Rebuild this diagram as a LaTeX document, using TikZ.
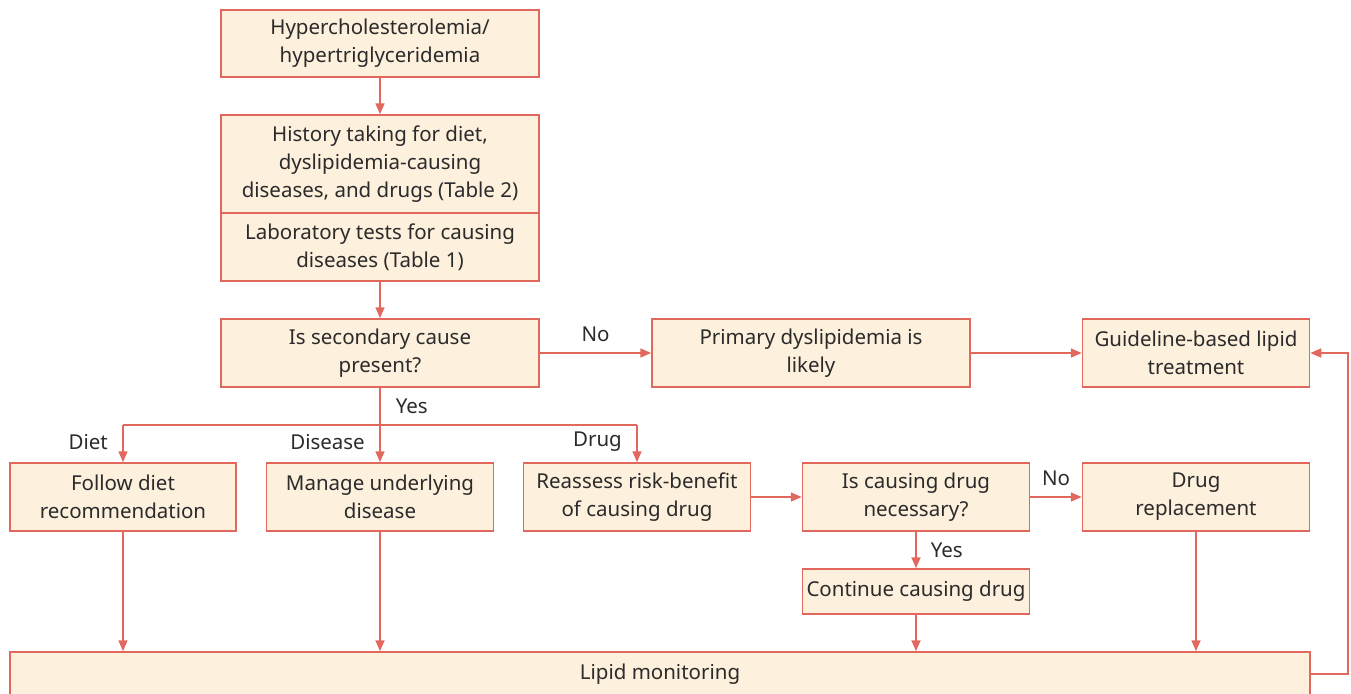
\documentclass[tikz,border=0pt]{standalone}
\usepackage{fontspec}
\setmainfont{Noto Sans}
\usetikzlibrary{arrows.meta}
\definecolor{boxfill}{HTML}{FDF0DD}
\definecolor{boxline}{HTML}{E2685E}
\definecolor{txt}{HTML}{2B2B2B}
\begin{document}
\begin{tikzpicture}[x=1pt,y=-1pt,
 box/.style={draw=boxline, fill=boxfill, line width=1.5pt, inner sep=0pt, align=center, text=txt, font=\fontsize{20.5}{28}\selectfont},
 arr/.style={draw=boxline, line width=1.6pt, -{Triangle[length=11pt,width=9pt]}},
 ln/.style={draw=boxline, line width=1.6pt},
 lab/.style={text=txt, font=\fontsize{20.5}{28}\selectfont, inner sep=0pt}]
\useasboundingbox (0,0) rectangle (1351,693);
% top column
\node[box, minimum width=318pt, minimum height=67pt] (b1) at (380,43.5) {Hypercholesterolemia/\\hypertriglyceridemia};
\node[box, minimum width=318pt, minimum height=98pt] (b2a) at (380,164) {History taking for diet,\\dyslipidemia-causing\\diseases, and drugs (Table 2)};
\node[box, minimum width=318pt, minimum height=68pt] (b2b) at (380,247) {Laboratory tests for causing\\diseases (Table 1)};
\node[box, minimum width=318pt, minimum height=68pt] (b3) at (380,353) {Is secondary cause\\present?};
\node[box, minimum width=318pt, minimum height=68pt] (b4) at (811,353) {Primary dyslipidemia is\\likely};
\node[box, minimum width=227pt, minimum height=68pt] (b5) at (1196,353) {Guideline-based lipid\\treatment};
% second row
\node[box, minimum width=226pt, minimum height=68pt] (diet) at (123,497) {Follow diet\\recommendation};
\node[box, minimum width=227pt, minimum height=68pt] (dis) at (380,497) {Manage underlying\\disease};
\node[box, minimum width=227pt, minimum height=68pt] (reas) at (637,497) {Reassess risk-benefit\\of causing drug};
\node[box, minimum width=227pt, minimum height=68pt] (nec) at (916,497) {Is causing drug\\necessary?};
\node[box, minimum width=227pt, minimum height=68pt] (repl) at (1196,497) {Drug\\replacement};
\node[box, minimum width=227pt, minimum height=45pt] (cont) at (916,591.5) {Continue causing drug};
\node[box, minimum width=1300pt, minimum height=44pt] (lm) at (660,674) {Lipid monitoring};
% connectors
\draw[arr] (b1) -- (b2a);
\draw[arr] (b2b) -- (b3);
\draw[arr] (b3) -- node[lab, above=10pt] {No} (b4);
\draw[arr] (b4) -- (b5);
\coordinate (split) at (380,425);
\coordinate (sl) at (123,425);
\coordinate (sr) at (637,425);
\draw[ln] (b3.south) -- node[lab, right=15pt] {Yes} (split);
\draw[ln] (sl) -- (sr);
\draw[arr] (sl) -- (diet.north);
\draw[arr] (split) -- (dis.north);
\draw[arr] (sr) -- (reas.north);
\node[lab, anchor=east] at (108,442) {Diet};
\node[lab, anchor=east] at (365,442) {Disease};
\node[lab, anchor=east] at (622,442) {Drug};
\draw[arr] (reas) -- (nec);
\draw[arr] (nec) -- node[lab, above=11pt] {No} (repl);
\draw[arr] (nec) -- node[lab, right=14pt] {Yes} (cont);
\draw[arr] (cont) -- (lm.north -| cont);
\draw[arr] (repl) -- (lm.north -| repl);
\draw[arr] (diet) -- (lm.north -| diet);
\draw[arr] (dis) -- (lm.north -| dis);
\coordinate (fb) at (1348,674);
\draw[arr] (lm.east) -- (fb) |- (b5.east);
\end{tikzpicture}
\end{document}
